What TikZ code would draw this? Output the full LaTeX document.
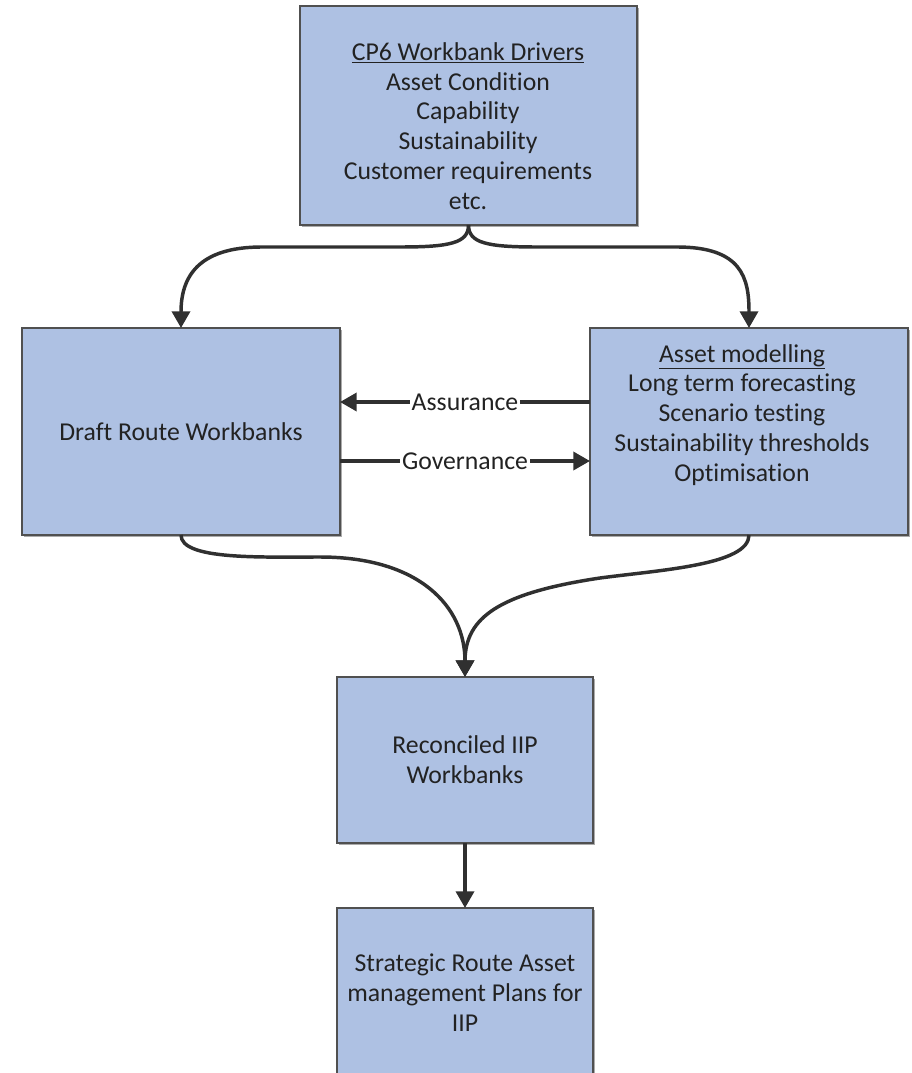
\documentclass[tikz,border=0pt]{standalone}
\usepackage{fontspec}
\setmainfont{Carlito}[Ligatures={NoCommon,NoRequired,NoContextual}]
\usetikzlibrary{arrows.meta,shadows}
\definecolor{boxfill}{RGB}{174,193,227}
\definecolor{boxline}{RGB}{80,80,80}
\definecolor{conncol}{RGB}{48,48,48}
\definecolor{txtcol}{RGB}{34,34,34}
\tikzset{
  box/.style={draw=boxline, line width=1.2pt, fill=boxfill, rectangle, outer sep=0pt, inner sep=2pt,
    drop shadow={shadow xshift=1.8pt, shadow yshift=-1.8pt, fill=black!55, opacity=0.6},
    text=txtcol, align=center, font=\fontsize{19.3}{22.4}\selectfont},
  txt/.style={text=txtcol, align=center, inner sep=0pt, font=\fontsize{19.3}{22.4}\selectfont},
  conn/.style={draw=conncol, line width=2.6pt, -{Triangle[length=12.5pt,width=13.5pt]}},
  lbl/.style={fill=white, inner sep=1.2pt, text=txtcol, font=\fontsize{19.3}{22.4}\selectfont},
}
\begin{document}
\begin{tikzpicture}[x=0.75pt,y=-0.75pt]
\useasboundingbox (0,0) rectangle (912,1073);
\clip (0,0) rectangle (912,1073);
\fill[white] (0,0) rectangle (912,1073);
% boxes
\node[box, minimum width=0.75pt*337, minimum height=0.75pt*219] (top) at (468.5,115.5) {};
\node[box, minimum width=0.75pt*318, minimum height=0.75pt*207] (draft) at (181,431.5) {Draft Route Workbanks};
\node[box, minimum width=0.75pt*318, minimum height=0.75pt*207] (model) at (749,431.5) {};
\node[box, minimum width=0.75pt*256, minimum height=0.75pt*166] (recon) at (465,760) {Reconciled IIP\\Workbanks};
\node[box, minimum width=0.75pt*256, minimum height=0.75pt*170] (strat) at (465,993) {Strategic Route Asset\\management Plans for\\IIP};
% texts
\node[txt] (toptext) at (468,126) {\underline{CP6 Workbank Drivers}\\Asset Condition\\Capability\\Sustainability\\Customer requirements\\etc.};
\node[txt] (modeltext) at (742,415) {\underline{Asset modelling}\\Long term forecasting\\Scenario testing\\Sustainability thresholds\\Optimisation};
% split connectors
\draw[conn] (top.south) .. controls +(0,18) and +(50,0) .. (400,247) -- (262,247) .. controls +(-65,0) and +(0,-50) .. (draft.north);
\draw[conn] (top.south) .. controls +(0,18) and +(-50,0) .. (537,247) -- (677,247) .. controls +(65,0) and +(0,-50) .. (model.north);
% middle arrows
\draw[conn] (model.west |- 0,402) -- node[lbl] (assur) {Assurance} (draft.east |- 0,402);
\draw[conn] (draft.east |- 0,461) -- node[lbl] (gov) {Governance} (model.west |- 0,461);
% merge connectors
\draw[conn] (draft.south) .. controls +(0,25) and +(-60,0) .. (320,557) .. controls +(100,0) and +(0,-70) .. (recon.north);
\draw[conn] (model.south) .. controls +(0,30) and +(60,-8) .. (600,578) .. controls +(-100,15) and +(0,-60) .. (recon.north);
\draw[conn] (recon.south) -- (strat.north);
\end{tikzpicture}
\end{document}
